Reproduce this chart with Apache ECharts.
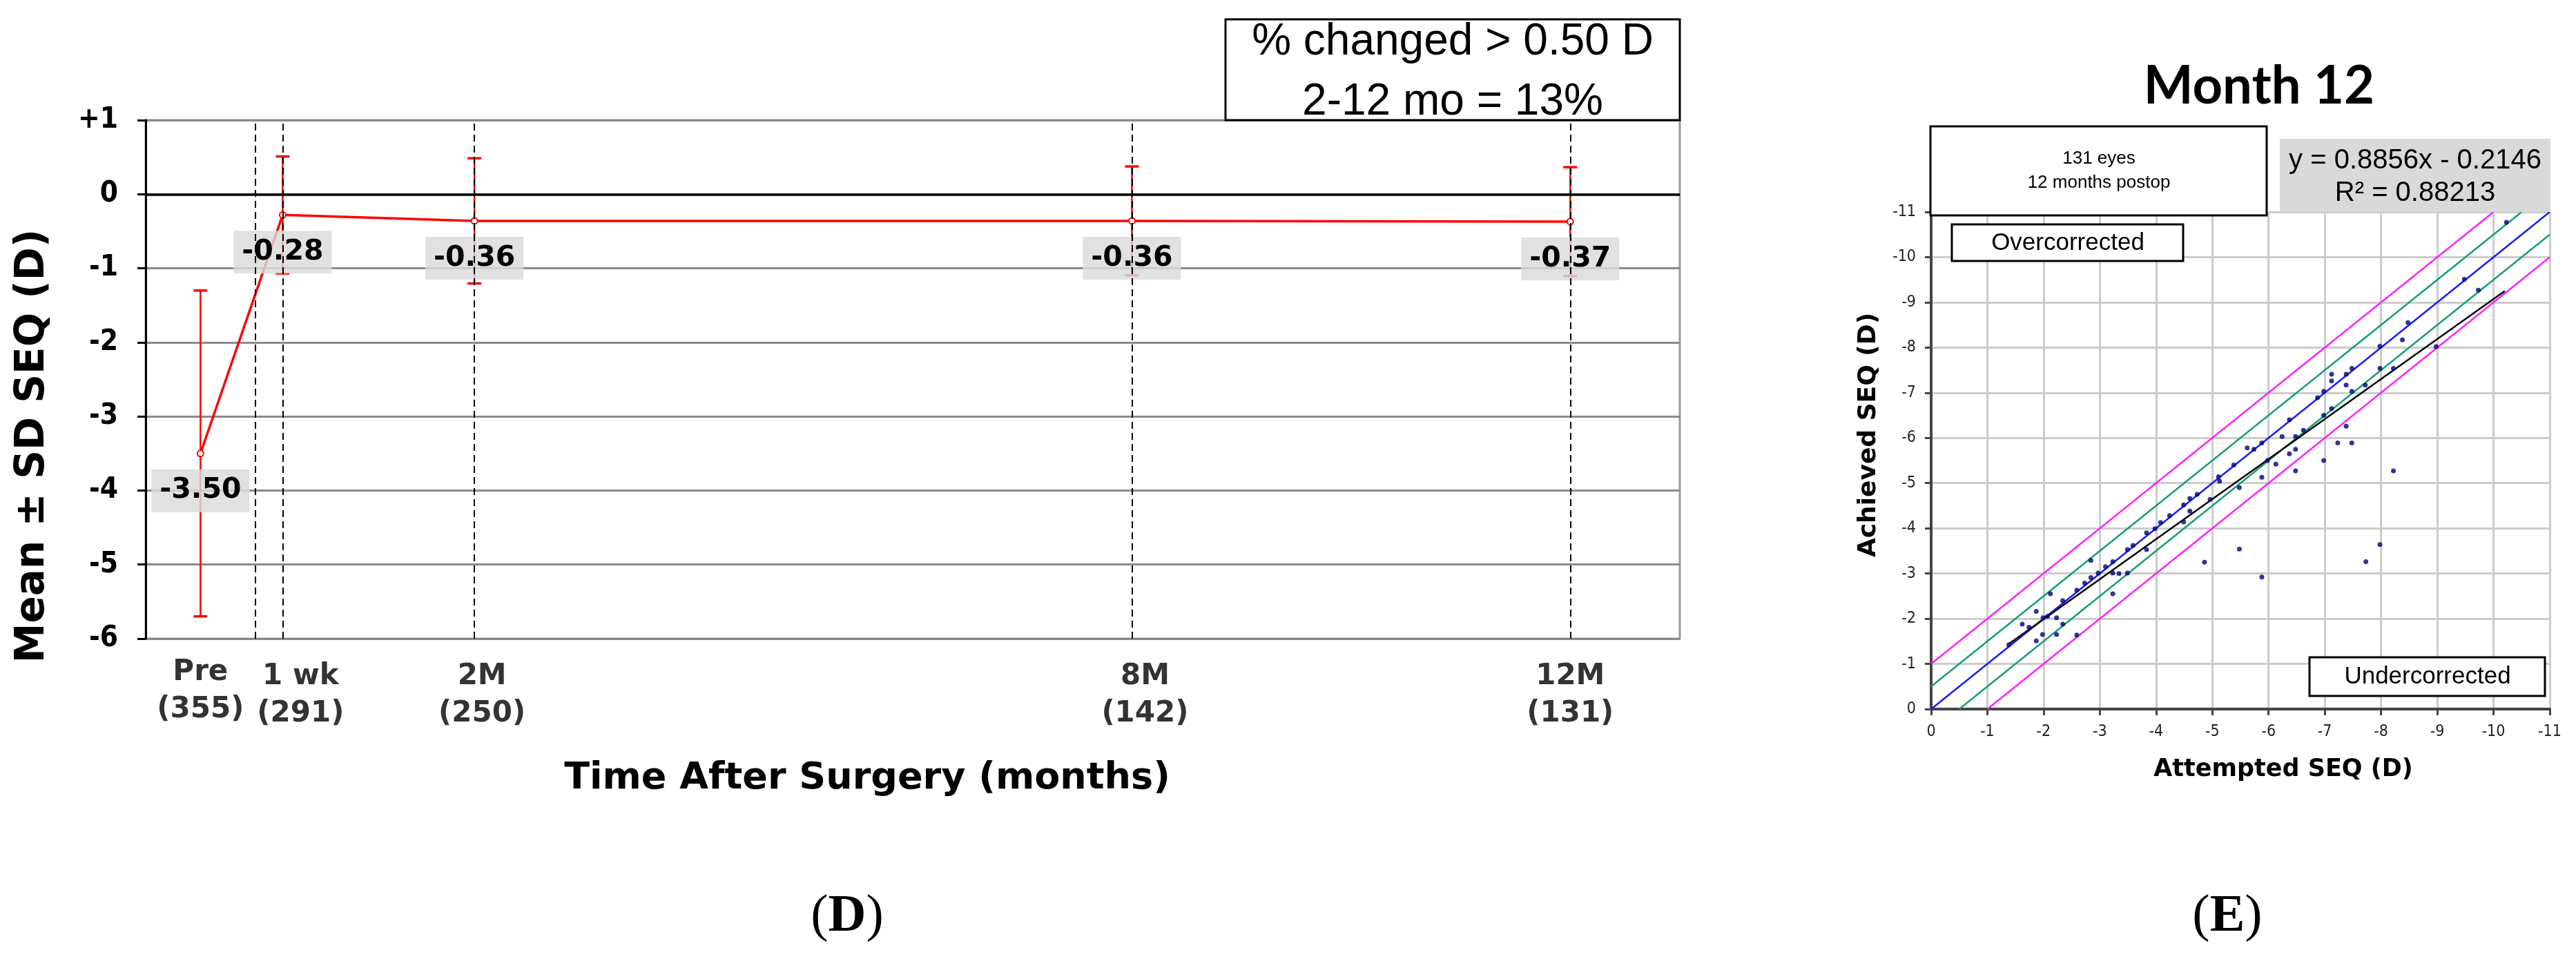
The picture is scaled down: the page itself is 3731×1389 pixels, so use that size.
<!DOCTYPE html>
<html><head><meta charset="utf-8">
<script src="https://cdn.jsdelivr.net/npm/echarts@6/dist/echarts.min.js"></script>
<style>html,body{margin:0;padding:0;background:#fff}#c{width:3731px;height:1389px}</style>
</head><body><div id="c"></div>
<script>
// ---- Panel D data ----
const timeLabels = ['Pre', '1 wk', '2M', '8M', '12M'];
const eyeCounts = [355, 291, 250, 142, 131];
const timeMonths = [-0.5, 0.25, 2, 8, 12];
const meanSEQ = [-3.50, -0.28, -0.36, -0.36, -0.37];
const sdSEQ = [2.2, 0.79, 0.845, 0.735, 0.735];
const visitLineMonths = [0, 0.25, 2, 8, 12];

// ---- Panel E data ----
const attemptedSEQ = [
 -1.38,-1.62,-1.74,-1.87,-1.87,-1.98,-1.99,-2.07,-2.12,-2.23,-2.23,-2.34,-2.34,-2.59,-2.59,-2.73,-2.84,-2.84,-2.97,-3.10,
 -3.23,-3.23,-3.34,-3.49,-3.23,-3.49,-3.59,-3.83,-3.83,-3.98,-4.08,-4.24,-4.49,-4.49,-4.60,-4.60,-4.73,-4.96,-4.86,
 -5.11,-5.13,-5.38,-5.48,-5.62,-5.74,-5.88,-5.88,-5.98,-6.13,-6.24,-6.37,-6.37,-6.48,-6.48,-6.48,-6.62,-6.87,-6.98,-6.98,
 -6.98,-7.12,-7.12,-7.12,-7.23,-7.38,-7.38,-7.38,-7.48,-7.48,-7.48,-7.72,-7.98,-7.98,-8.22,-8.22,-8.38,-8.48,
 -10.23,-9.48,-9.73,-8.98,
 -5.48,-5.88,-7.73,-7.98
];
const achievedSEQ = [
 -1.42,-1.88,-1.81,-2.16,-1.51,-1.65,-2.02,-2.05,-2.55,-2.02,-1.65,-1.88,-2.40,-1.64,-2.63,-2.79,-2.91,-3.29,-3.01,-3.15,
 -3.26,-3.01,-3.00,-3.01,-2.55,-3.53,-3.62,-3.90,-3.53,-3.99,-4.13,-4.28,-4.52,-4.14,-4.66,-4.38,-4.75,-4.64,-3.25,
 -5.14,-5.04,-5.40,-4.90,-5.78,-5.75,-5.89,-5.13,-5.50,-5.42,-6.03,-6.40,-5.65,-6.03,-5.75,-5.27,-6.17,-6.89,-7.03,-6.50,
 -5.50,-6.65,-7.41,-7.26,-5.89,-7.41,-7.17,-6.26,-7.54,-7.03,-5.89,-7.17,-8.03,-7.54,-7.54,-5.27,-8.17,-8.55,
 -10.77,-9.51,-9.27,-8.02,
 -3.54,-2.92,-3.26,-3.64
];
const identityLine = [[0, 0], [-11, -11]];
const plusHalfLine = [[0, -0.5], [-10.5, -11]];
const minusHalfLine = [[-0.5, 0], [-11, -10.5]];
const plusOneLine = [[0, -1], [-10, -11]];
const minusOneLine = [[-1, 0], [-11, -10]];
const regressionLine = [[-1.38, -1.44], [-10.2, -9.25]];

// ---- styles ----
const xLabelShift = [0, 26, 11, 19, 0];
const BOLD = "'DejaVu Sans', Verdana, sans-serif";
const COND = "'DejaVu Sans Condensed', 'DejaVu Sans', sans-serif";
const ARIAL = "'Liberation Sans', Arial, sans-serif";
const SERIF = "'Liberation Serif', 'Times New Roman', serif";

function txt(x, y, text, size, weight, family, extra) {
  return Object.assign({
    type: 'text', x: x, y: y, z: 100,
    style: { text: text, fontSize: size, fontWeight: weight, fontFamily: family, fill: '#000',
      align: 'center', verticalAlign: 'middle', textAlign: 'center', textVerticalAlign: 'middle' }
  }, extra || {});
}
function box(x, y, w, h, fill, stroke, lw) {
  return { type: 'rect', z: 99, shape: { x: x, y: y, width: w, height: h },
    style: { fill: fill, stroke: stroke, lineWidth: lw } };
}

const chart = echarts.init(document.getElementById('c'));
chart.setOption({
  animation: false,
  backgroundColor: '#fff',
  grid: [
    { left: 211, top: 174, width: 2222, height: 751, show: true, borderColor: '#999', borderWidth: 3, backgroundColor: 'transparent' },
    { left: 2797, top: 307, width: 896, height: 720 }
  ],
  xAxis: [
    { gridIndex: 0, type: 'value', min: -1, max: 13, axisLine: { show: false }, axisTick: { show: false },
      axisLabel: { show: false }, splitLine: { show: false } },
    { gridIndex: 1, type: 'value', min: -11, max: 0, interval: 1, inverse: true,
      axisLine: { onZero: false, lineStyle: { color: '#444', width: 4 } },
      axisTick: { length: 9, lineStyle: { color: '#444', width: 3 } },
      axisLabel: { margin: 22, fontSize: 23, color: '#222', fontFamily: COND },
      splitLine: { show: true, lineStyle: { color: '#cccccc', width: 3 } } }
  ],
  yAxis: [
    { gridIndex: 0, type: 'value', min: -6, max: 1, interval: 1,
      axisLine: { show: true, onZero: false, lineStyle: { color: '#000', width: 3 } },
      axisTick: { show: true, length: 12, lineStyle: { color: '#000', width: 3 } },
      axisLabel: { margin: 40, fontSize: 42, fontWeight: 'bold', color: '#000', fontFamily: COND,
        formatter: v => v > 0 ? '+' + v : String(v) },
      splitLine: { show: true, lineStyle: { color: '#8a8a8a', width: 3 } } },
    { gridIndex: 1, type: 'value', min: -11, max: 0, interval: 1, inverse: true,
      axisLine: { show: true, onZero: false, lineStyle: { color: '#444', width: 4 } },
      axisTick: { show: true, length: 9, lineStyle: { color: '#444', width: 3 } },
      axisLabel: { margin: 22, fontSize: 23, color: '#222', fontFamily: COND },
      splitLine: { show: true, lineStyle: { color: '#cccccc', width: 3 } } }
  ],
  series: [
    { // reference lines (dashed visit lines, zero line)
      type: 'line', xAxisIndex: 0, yAxisIndex: 0, data: [], z: 1, silent: true,
      markLine: { symbol: 'none', silent: true, label: { show: false },
        data: visitLineMonths.map(t => ({ xAxis: t, lineStyle: { type: [10, 6], color: '#000', width: 2 } }))
          .concat([{ yAxis: 0, lineStyle: { type: 'solid', color: '#000', width: 3.5 } }]) }
    },
    { // error bars
      type: 'custom', xAxisIndex: 0, yAxisIndex: 0, z: 2,
      data: timeMonths.map((t, i) => [t, meanSEQ[i], sdSEQ[i]]),
      encode: { x: 0, y: 1 },
      renderItem: (params, api) => {
        const x = api.value(0), m = api.value(1), sd = api.value(2);
        const top = api.coord([x, m + sd]), bot = api.coord([x, m - sd]);
        const w = 10;
        const st = { stroke: '#ff0000', lineWidth: 2.5 };
        return { type: 'group', children: [
          { type: 'line', shape: { x1: top[0], y1: top[1], x2: bot[0], y2: bot[1] }, style: st },
          { type: 'line', shape: { x1: top[0] - w, y1: top[1], x2: top[0] + w, y2: top[1] }, style: { stroke: '#ff0000', lineWidth: 3.5 } },
          { type: 'line', shape: { x1: bot[0] - w, y1: bot[1], x2: bot[0] + w, y2: bot[1] }, style: { stroke: '#ff0000', lineWidth: 3.5 } }
        ] };
      }
    },
    { // mean line
      type: 'line', xAxisIndex: 0, yAxisIndex: 0, z: 3,
      data: timeMonths.map((t, i) => [t, meanSEQ[i]]),
      symbol: 'emptyCircle', symbolSize: 9,
      lineStyle: { color: '#ff0000', width: 3.5 },
      itemStyle: { color: '#ff0000', borderWidth: 2 },
      label: { show: true, position: 'inside', offset: [0, 54],
        formatter: p => p.value[1].toFixed(2),
        fontSize: 41, fontWeight: 'bold', fontFamily: BOLD, color: '#000',
        backgroundColor: 'rgba(218,218,218,0.82)', padding: [12, 12, 9, 12] }
    },
    { // x category labels for panel D
      type: 'scatter', xAxisIndex: 0, yAxisIndex: 0, z: 3, symbolSize: 0, silent: true,
      data: timeMonths.map((t, i) => ({ value: [t, -6], label: { offset: [xLabelShift[i], i === 0 ? 0 : 6] } })),
      label: { show: true, position: 'bottom', distance: 22,
        formatter: p => timeLabels[p.dataIndex] + '\n(' + eyeCounts[p.dataIndex] + ')',
        fontSize: 42, fontWeight: 'bold', fontFamily: BOLD, color: '#000', lineHeight: 54, align: 'center' }
    },
    // ---- Panel E ----
    { type: 'line', xAxisIndex: 1, yAxisIndex: 1, data: plusOneLine, showSymbol: false, symbol: 'none', z: 3, lineStyle: { color: '#ff22ff', width: 2.5 } },
    { type: 'line', xAxisIndex: 1, yAxisIndex: 1, data: minusOneLine, showSymbol: false, symbol: 'none', z: 3, lineStyle: { color: '#ff22ff', width: 2.5 } },
    { type: 'line', xAxisIndex: 1, yAxisIndex: 1, data: plusHalfLine, showSymbol: false, symbol: 'none', z: 3, lineStyle: { color: '#14a06e', width: 2.5 } },
    { type: 'line', xAxisIndex: 1, yAxisIndex: 1, data: minusHalfLine, showSymbol: false, symbol: 'none', z: 3, lineStyle: { color: '#14a06e', width: 2.5 } },
    { type: 'line', xAxisIndex: 1, yAxisIndex: 1, data: identityLine, showSymbol: false, symbol: 'none', z: 3, lineStyle: { color: '#1a1aff', width: 2.5 } },
    { type: 'line', xAxisIndex: 1, yAxisIndex: 1, data: regressionLine, showSymbol: false, symbol: 'none', z: 4, lineStyle: { color: '#000', width: 2.5 } },
    { type: 'scatter', xAxisIndex: 1, yAxisIndex: 1, z: 5, symbolSize: 7,
      itemStyle: { color: '#00007a' },
      data: attemptedSEQ.map((a, i) => [a, achievedSEQ[i]]) }
  ],
  graphic: [
    // panel D texts
    txt(48, 646, 'Mean \u00b1 SD SEQ (D)', 58, 'bold', BOLD, { rotation: Math.PI / 2 }),
    txt(1256, 1128, 'Time After Surgery (months)', 54, 'bold', BOLD),
    box(1775, 28, 658, 146, '#fff', '#000', 3),
    txt(2104, 61, '% changed > 0.50 D', 64, 'normal', ARIAL),
    txt(2104, 148, '2-12 mo = 13%', 64, 'normal', ARIAL),
    { type: 'text', x: 1227, y: 1328, z: 100, style: { text: '{p|(}{b|D}{p|)}', align: 'center', verticalAlign: 'middle',
        textAlign: 'center', textVerticalAlign: 'middle', fill: '#000',
        rich: { p: { fontSize: 76, fontFamily: SERIF, fill: '#000', color: '#000' },
                b: { fontSize: 76, fontFamily: SERIF, fontWeight: 'bold', fill: '#000', color: '#000' } } } },
    // panel E texts
    txt(3272, 125, 'Month 12', 76, 'bold', "Lato, 'Liberation Sans', sans-serif"),
    box(2796, 183, 487, 129, '#fff', '#000', 3),
    txt(3040, 230, '131 eyes', 26, 'normal', ARIAL),
    txt(3040, 265, '12 months postop', 26, 'normal', ARIAL),
    box(3302, 201, 392, 106, '#d9d9d9', null, 0),
    txt(3498, 233, 'y = 0.8856x - 0.2146', 40, 'normal', ARIAL),
    txt(3498, 280, 'R\u00b2 = 0.88213', 40, 'normal', ARIAL),
    box(2827, 325, 335, 53, '#fff', '#000', 3),
    txt(2995, 352, 'Overcorrected', 35, 'normal', ARIAL),
    box(3345, 952, 341, 56, '#fff', '#000', 3),
    txt(3516, 980, 'Undercorrected', 35, 'normal', ARIAL),
    txt(2707, 630, 'Achieved SEQ (D)', 36, 'bold', BOLD, { rotation: Math.PI / 2 }),
    txt(3307, 1115, 'Attempted SEQ (D)', 35, 'bold', BOLD),
    { type: 'text', x: 3226, y: 1328, z: 100, style: { text: '{p|(}{b|E}{p|)}', align: 'center', verticalAlign: 'middle',
        textAlign: 'center', textVerticalAlign: 'middle', fill: '#000',
        rich: { p: { fontSize: 76, fontFamily: SERIF, fill: '#000', color: '#000' },
                b: { fontSize: 76, fontFamily: SERIF, fontWeight: 'bold', fill: '#000', color: '#000' } } } }
  ]
});
</script></body></html>
